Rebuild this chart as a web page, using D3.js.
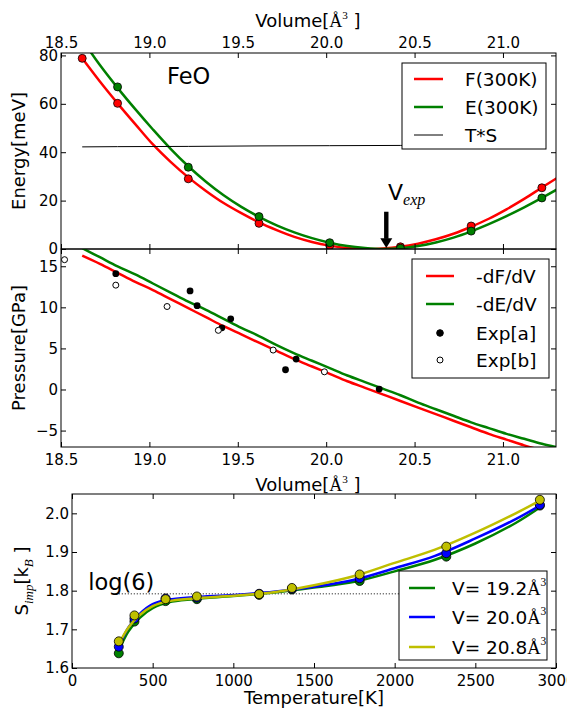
<!DOCTYPE html>
<html lang="en">
<head>
<meta charset="UTF-8">
<title>FeO: energy, pressure and impurity entropy</title>
<script src="https://d3js.org/d3.v7.min.js"></script>
<style>
  body { margin: 0; background: #fff; }
  svg { display: block; font-family: "DejaVu Sans", sans-serif; }
  .tick text { font-size: 15px; fill: #000; font-family: "DejaVu Sans", sans-serif; }
  .tick line { stroke: #000; }
</style>
</head>
<body>
<div id="chart"></div>
<script>
// ---- values ----

// top panel: computed volumes (A^3) and energies (meV)
const volumes = [18.62, 18.82, 19.22, 19.62, 20.02, 20.42, 20.82, 21.22];
const fPoints = [78.8, 60.2, 29.0, 10.6, 1.4, 0.9, 9.5, 25.3];
const ePoints = [86.5, 67.0, 33.8, 13.4, 2.6, 0.3, 7.4, 21.1];
const tsPoints = [42.2, 42.3, 42.4, 42.6, 42.7, 42.8, 43.0, 43.1];

// fitted curves sampled on a volume grid
const curveVolumes = [18.62, 18.72, 18.82, 18.92, 19.02, 19.12, 19.22, 19.32, 19.42, 19.52,
                      19.62, 19.72, 19.82, 19.92, 20.02, 20.12, 20.22, 20.32, 20.42, 20.52,
                      20.62, 20.72, 20.82, 20.92, 21.02, 21.12, 21.22, 21.32];
const fCurve = [78.8, 69.2, 60.2, 51.6, 43.2, 36.0, 29.6, 24.0, 19.0, 14.8,
                11.0, 7.8, 5.0, 2.9, 1.4, 0.4, 0.0, 0.2, 0.9, 2.2,
                4.0, 6.3, 9.2, 12.5, 16.4, 20.7, 25.4, 30.0];
const eCurve = [86.5, 76.0, 66.6, 57.8, 49.4, 41.4, 34.2, 27.8, 22.2, 17.4,
                13.3, 9.8, 6.9, 4.5, 2.6, 1.2, 0.4, 0.0, 0.3, 1.2,
                2.7, 4.7, 7.3, 10.3, 13.6, 17.2, 21.1, 25.2];

// middle panel: pressures (GPa) on the same grid
const pfCurve = [16.3, 15.3, 14.2, 13.1, 12.1, 11.0, 9.9, 8.8, 7.7, 6.7,
                 5.7, 4.7, 3.7, 2.8, 1.9, 1.0, 0.2, -0.6, -1.4, -2.2,
                 -3.0, -3.8, -4.6, -5.4, -6.1, -6.8, -7.4, -7.9];
const peCurve = [17.2, 16.1, 15.0, 14.0, 12.9, 11.8, 10.7, 9.7, 8.6, 7.5,
                 6.5, 5.4, 4.4, 3.5, 2.6, 1.7, 0.9, 0.1, -0.7, -1.6,
                 -2.4, -3.2, -4.0, -4.7, -5.4, -6.0, -6.6, -7.1];
const expAVolumes = [18.81, 19.23, 19.27, 19.41, 19.46, 19.77, 19.83, 20.30];
const expAPressures = [14.1, 12.0, 10.2, 7.5, 8.6, 2.4, 3.7, 0.05];
const expBVolumes = [18.52, 18.81, 19.10, 19.39, 19.70, 19.99];
const expBPressures = [15.8, 12.7, 10.1, 7.2, 4.8, 2.15];

// bottom panel: temperatures (K) and S_imp (k_B) for three volumes
const cellVolumes = [19.2, 20.0, 20.8];
const temperatures = [290, 387, 580, 774, 1160, 1363, 1783, 2320, 2900];
const sPoints = [
  [1.638, 1.720, 1.773, 1.778, 1.789, 1.803, 1.825, 1.888, 2.020],
  [1.655, 1.728, 1.780, 1.782, 1.792, 1.805, 1.832, 1.897, 2.022],
  [1.669, 1.736, 1.778, 1.785, 1.791, 1.807, 1.842, 1.914, 2.035]
];
const curveTemps = [290, 350, 420, 500, 600, 750, 1000, 1250, 1500, 1750, 2000, 2250, 2500, 2750, 2900];
const sCurves = [
  [1.645, 1.695, 1.730, 1.755, 1.770, 1.778, 1.786, 1.795, 1.808, 1.823, 1.850, 1.880, 1.922, 1.975, 2.015],
  [1.655, 1.705, 1.740, 1.765, 1.777, 1.783, 1.789, 1.797, 1.810, 1.828, 1.858, 1.890, 1.935, 1.985, 2.020],
  [1.662, 1.705, 1.737, 1.760, 1.773, 1.780, 1.787, 1.796, 1.814, 1.838, 1.872, 1.906, 1.950, 2.000, 2.033]
];
const log6 = 1.7918;

// tick values
const volumeTicks = [18.5, 19.0, 19.5, 20.0, 20.5, 21.0];
const energyTicks = [0, 20, 40, 60, 80];
const pressureTicks = [-5, 0, 5, 10, 15];
const tempTicks = [0, 500, 1000, 1500, 2000, 2500, 3000];
const entropyTicks = [1.6, 1.7, 1.8, 1.9, 2.0];

// ---- drawing ----
const RED = "#ff0000", GREEN = "#008000", BLUE = "#0000ff", YELLOW = "#bfbf00";
const serif = "'Liberation Serif', 'DejaVu Serif', serif";
const LW = 2.5;

const svg = d3.select("#chart").append("svg")
    .attr("width", 567)
    .attr("height", 711);

// scales
const xV = d3.scaleLinear().domain([18.5, 21.3]).range([61, 556]);
const yE = d3.scaleLinear().domain([0, 81]).range([249, 53]);
const yP = d3.scaleLinear().domain([-7, 17.1]).range([447, 249]);
const xT = d3.scaleLinear().domain([0, 3000]).range([72, 556]);
const yS = d3.scaleLinear().domain([1.6, 2.05]).range([668, 494]);

function clipFor(id, xs, ys) {
    const [x0, x1] = xs.range(), [y1, y0] = ys.range();
    svg.append("clipPath").attr("id", id)
        .append("rect").attr("x", x0).attr("y", y0).attr("width", x1 - x0).attr("height", y1 - y0);
    return svg.append("g").attr("clip-path", `url(#${id})`);
}

// inward ticks on all four sides, labels only where asked
function drawAxes(xs, ys, xTicks, yTicks, xFmt, yFmt, labelTop) {
    const [x0, x1] = xs.range(), [y1, y0] = ys.range();
    const g = svg.append("g");
    const tk = 5;
    g.append("g").attr("transform", `translate(0,${y1})`)
        .call(d3.axisBottom(xs).tickValues(xTicks).tickSizeInner(-tk).tickSizeOuter(0)
            .tickPadding(7).tickFormat(labelTop ? "" : xFmt));
    g.append("g").attr("transform", `translate(0,${y0})`)
        .call(d3.axisTop(xs).tickValues(xTicks).tickSizeInner(-tk).tickSizeOuter(0)
            .tickPadding(5).tickFormat(labelTop ? xFmt : ""));
    g.append("g").attr("transform", `translate(${x0},0)`)
        .call(d3.axisLeft(ys).tickValues(yTicks).tickSizeInner(-tk).tickSizeOuter(0)
            .tickPadding(3).tickFormat(yFmt));
    g.append("g").attr("transform", `translate(${x1},0)`)
        .call(d3.axisRight(ys).tickValues(yTicks).tickSizeInner(-tk).tickSizeOuter(0).tickFormat(""));
    g.selectAll(".domain").remove();
    g.append("rect")
        .attr("x", x0).attr("y", y0).attr("width", x1 - x0).attr("height", y1 - y0)
        .attr("fill", "none").attr("stroke", "#000").attr("stroke-width", 1);
}

// "A^3" unit appended to a text element
function addAngstrom(t, size) {
    t.append("tspan").attr("font-family", serif).text("Å");
    t.append("tspan").attr("font-family", serif).attr("font-size", size * 0.62)
        .attr("dy", -size * 0.45).text("3");
    return t.append("tspan").attr("dy", size * 0.45);
}

function legendBox(x, y, w, h, rows, rowY, lineX, textX, size) {
    const g = svg.append("g");
    g.append("rect").attr("x", x).attr("y", y).attr("width", w).attr("height", h)
        .attr("fill", "#fff").attr("stroke", "#000").attr("stroke-width", 1);
    rows.forEach((r, i) => {
        const cy = rowY[i];
        if (r.kind === "line") {
            g.append("line").attr("x1", lineX[0]).attr("x2", lineX[1]).attr("y1", cy).attr("y2", cy)
                .attr("stroke", r.color).attr("stroke-width", r.width || LW);
        } else {
            g.append("circle").attr("cx", (lineX[0] + lineX[1]) / 2).attr("cy", cy)
                .attr("r", r.kind === "dot" ? 3.3 : 3)
                .attr("fill", r.kind === "dot" ? "#000" : "#fff")
                .attr("stroke", "#000").attr("stroke-width", 1);
        }
        const t = g.append("text").attr("x", textX).attr("y", cy + size * 0.36)
            .attr("font-size", size);
        if (r.volume !== undefined) {
            t.append("tspan").text(`V= ${d3.format(".1f")(r.volume)}`);
            addAngstrom(t, size);
        } else {
            t.text(r.label);
        }
    });
}

const fmt1 = d3.format(".1f");
const fmt0 = d3.format("d");

// ===== top panel: energies =====
const topPlot = clipFor("clipTop", xV, yE);
const lineE = d3.line().x(d => xV(d[0])).y(d => yE(d[1])).curve(d3.curveCatmullRom);

[[fCurve, fPoints, RED], [eCurve, ePoints, GREEN]].forEach(([curve, pts, color]) => {
    topPlot.append("path")
        .datum(d3.zip(curveVolumes, curve))
        .attr("fill", "none").attr("stroke", color).attr("stroke-width", LW)
        .attr("d", lineE);
    topPlot.selectAll(null)
        .data(d3.zip(volumes, pts))
        .join("circle")
        .attr("cx", d => xV(d[0])).attr("cy", d => yE(d[1])).attr("r", 4)
        .attr("fill", color).attr("stroke", "#000").attr("stroke-width", 0.8);
});
topPlot.append("path")
    .datum(d3.zip(volumes, tsPoints))
    .attr("fill", "none").attr("stroke", "#000").attr("stroke-width", 1)
    .attr("d", d3.line().x(d => xV(d[0])).y(d => yE(d[1])));

// V_exp arrow
const vExp = 20.34;
topPlot.append("rect")
    .attr("x", xV(vExp) - 2.2).attr("y", yE(15.4))
    .attr("width", 4.4).attr("height", yE(4.2) - yE(15.4))
    .attr("fill", "#000");
topPlot.append("path")
    .attr("d", `M${xV(vExp) - 6},${yE(4.4)} L${xV(vExp) + 6},${yE(4.4)} L${xV(vExp)},${yE(0.4)} Z`)
    .attr("fill", "#000");
const vText = svg.append("text").attr("x", xV(20.35)).attr("y", yE(20.3)).attr("font-size", 22);
vText.append("tspan").text("V");
vText.append("tspan").attr("font-family", serif).attr("font-style", "italic")
    .attr("font-size", 16).attr("dy", 5).text("exp");

svg.append("text").attr("x", xV(19.1)).attr("y", yE(68)).attr("font-size", 22.5).text("FeO");

drawAxes(xV, yE, volumeTicks, energyTicks, fmt1, fmt0, true);

// axis titles
const topTitle = svg.append("text").attr("x", 308).attr("y", 27)
    .attr("text-anchor", "middle").attr("font-size", 18);
topTitle.append("tspan").text("Volume[");
addAngstrom(topTitle, 18).text(" ]");

svg.append("text")
    .attr("transform", `translate(25,${(53 + 249) / 2}) rotate(-90)`)
    .attr("text-anchor", "middle").attr("font-size", 18)
    .text("Energy[meV]");

legendBox(402, 63, 144, 86,
    [{ label: "F(300K)", color: RED, kind: "line" },
     { label: "E(300K)", color: GREEN, kind: "line" },
     { label: "T*S", color: "#000", kind: "line", width: 1 }],
    [79, 107, 135], [414, 443], 465, 18.5);

// ===== middle panel: pressures =====
const midPlot = clipFor("clipMid", xV, yP);
const lineP = d3.line().x(d => xV(d[0])).y(d => yP(d[1])).curve(d3.curveCatmullRom);
[[pfCurve, RED], [peCurve, GREEN]].forEach(([curve, color]) => {
    midPlot.append("path")
        .datum(d3.zip(curveVolumes, curve))
        .attr("fill", "none").attr("stroke", color).attr("stroke-width", LW)
        .attr("d", lineP);
});
midPlot.selectAll(null)
    .data(d3.zip(expAVolumes, expAPressures))
    .join("circle")
    .attr("cx", d => xV(d[0])).attr("cy", d => yP(d[1])).attr("r", 3.4)
    .attr("fill", "#000");
midPlot.selectAll(null)
    .data(d3.zip(expBVolumes, expBPressures))
    .join("circle")
    .attr("cx", d => xV(d[0])).attr("cy", d => yP(d[1])).attr("r", 3)
    .attr("fill", "#fff").attr("stroke", "#000").attr("stroke-width", 1);

drawAxes(xV, yP, volumeTicks, pressureTicks, fmt1, fmt0, false);

const midTitle = svg.append("text").attr("x", 308).attr("y", 491)
    .attr("text-anchor", "middle").attr("font-size", 18);
midTitle.append("tspan").text("Volume[");
addAngstrom(midTitle, 18).text(" ]");

svg.append("text")
    .attr("transform", `translate(25,${(249 + 447) / 2}) rotate(-90)`)
    .attr("text-anchor", "middle").attr("font-size", 18)
    .text("Pressure[GPa]");

legendBox(412, 259, 137, 119,
    [{ label: "-dF/dV", color: RED, kind: "line" },
     { label: "-dE/dV", color: GREEN, kind: "line" },
     { label: "Exp[a]", kind: "dot" },
     { label: "Exp[b]", kind: "open" }],
    [276, 304, 333, 360], [426, 454], 476, 18.5);

// ===== bottom panel: impurity entropy =====
const botPlot = clipFor("clipBot", xT, yS);
const sColors = [GREEN, BLUE, YELLOW];
const lineS = d3.line().x(d => xT(d[0])).y(d => yS(d[1])).curve(d3.curveCatmullRom);

botPlot.append("line")
    .attr("x1", xT(temperatures[0])).attr("x2", xT(temperatures[temperatures.length - 1]))
    .attr("y1", yS(log6)).attr("y2", yS(log6))
    .attr("stroke", "#000").attr("stroke-width", 1).attr("stroke-dasharray", "1,2");

sCurves.forEach((curve, i) => {
    botPlot.append("path")
        .datum(d3.zip(curveTemps, curve))
        .attr("fill", "none").attr("stroke", sColors[i]).attr("stroke-width", LW)
        .attr("d", lineS);
    botPlot.selectAll(null)
        .data(d3.zip(temperatures, sPoints[i]))
        .join("circle")
        .attr("cx", d => xT(d[0])).attr("cy", d => yS(d[1])).attr("r", 4.5)
        .attr("fill", sColors[i]).attr("stroke", "#000").attr("stroke-width", 0.8);
});

svg.append("text").attr("x", xT(100)).attr("y", yS(1.8008)).attr("font-size", 22.5).text("log(6)");

drawAxes(xT, yS, tempTicks, entropyTicks, fmt0, fmt1, false);

svg.append("text").attr("x", 314).attr("y", 704)
    .attr("text-anchor", "middle").attr("font-size", 18)
    .text("Temperature[K]");

const sLabel = svg.append("text")
    .attr("transform", `translate(28,${(494 + 668) / 2}) rotate(-90)`)
    .attr("text-anchor", "middle").attr("font-size", 18);
sLabel.append("tspan").text("S");
sLabel.append("tspan").attr("font-family", serif).attr("font-style", "italic")
    .attr("font-size", 13).attr("dy", 5).text("imp");
sLabel.append("tspan").attr("dy", -5).text("[k");
sLabel.append("tspan").attr("font-family", serif).attr("font-style", "italic")
    .attr("font-size", 13).attr("dy", 5).text("B");
sLabel.append("tspan").attr("dy", -5).text(" ]");

legendBox(399, 571, 148, 89,
    cellVolumes.map((v, i) => ({ volume: v, color: sColors[i], kind: "line" })),
    [588, 617, 647], [409, 435], 452, 18.5);
</script>
</body>
</html>
